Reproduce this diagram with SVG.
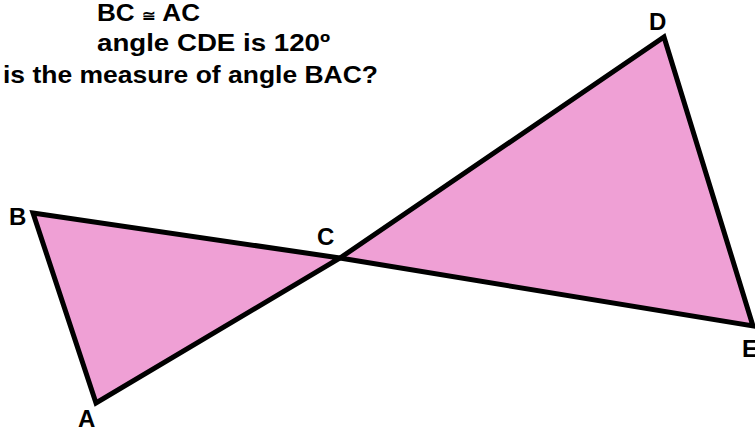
<svg xmlns="http://www.w3.org/2000/svg" width="755" height="431" viewBox="0 0 755 431">
<style>
.tri{fill:#EFA0D5;stroke:#000;stroke-width:5;stroke-linejoin:miter}
.t{font-family:"Liberation Sans",Arial,sans-serif;font-weight:bold;font-size:24px;fill:#000}
.lbl{font-family:"Liberation Sans",Arial,sans-serif;font-weight:bold;font-size:24px;fill:#000}
</style>
<rect width="755" height="431" fill="#fff"/>
<g id="question">
<text class="t" x="97" y="21" textLength="103" lengthAdjust="spacingAndGlyphs">BC <tspan font-size="15">≅</tspan> AC</text>
<text class="t" x="97" y="51" textLength="233" lengthAdjust="spacingAndGlyphs">angle CDE is 120º</text>
<text class="t" x="3" y="83" textLength="375" lengthAdjust="spacingAndGlyphs">is the measure of angle BAC?</text>
</g>
<g id="connectors">
<polygon id="triABC" class="tri" points="33,213 340,258 96,403"/>
<polygon id="triCDE" class="tri" points="340,258 664,37 753,326"/>
</g>
<g id="B"><text class="lbl" x="9" y="225">B</text></g>
<g id="C"><text class="lbl" x="317" y="245">C</text></g>
<g id="D"><text class="lbl" x="649" y="30">D</text></g>
<g id="E"><text class="lbl" x="742" y="357">E</text></g>
<g id="A"><text class="lbl" x="78" y="427">A</text></g>
</svg>
